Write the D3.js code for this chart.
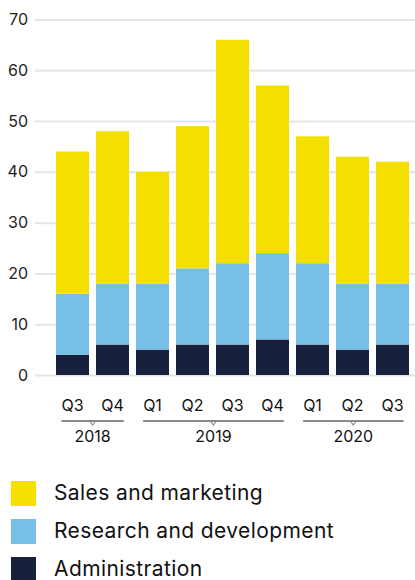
<!DOCTYPE html>
<html>
<head>
<meta charset="utf-8">
<script src="https://cdn.jsdelivr.net/npm/d3@7"></script>
<style>
  body { margin: 0; background: #fff; }
  svg { display: block; font-family: Inter, "Open Sans", sans-serif; }
</style>
</head>
<body>
<div class="chart"></div>
<script>
// quarters and the year each one belongs to
var quarters = ["Q3", "Q4", "Q1", "Q2", "Q3", "Q4", "Q1", "Q2", "Q3"];
var years = ["2018", "2018", "2019", "2019", "2019", "2019", "2020", "2020", "2020"];

// series values (stacked from the bottom)
var administration = [4, 6, 5, 6, 6, 7, 6, 5, 6];
var researchDev = [12, 12, 13, 15, 16, 17, 16, 13, 12];
var salesMarketing = [28, 30, 22, 28, 44, 33, 25, 25, 24];

var seriesNames = ["Administration", "Research and development", "Sales and marketing"];
var yTicks = [0, 10, 20, 30, 40, 50, 60, 70];

var colors = {
  "Administration": "#17213d",
  "Research and development": "#76bfe7",
  "Sales and marketing": "#f5df00"
};

var svgWidth = 415;
var svgHeight = 580;

var svg = d3.select(".chart")
  .append("svg")
  .attr("width", svgWidth)
  .attr("height", svgHeight);

// build rows for d3.stack
var rows = quarters.map(function(q, i) {
  return {
    key: i,
    "Administration": administration[i],
    "Research and development": researchDev[i],
    "Sales and marketing": salesMarketing[i]
  };
});

var stacked = d3.stack().keys(seriesNames)(rows);

var yScale = d3.scaleLinear().domain([0, 70]).range([375, 19.5]);
var xScale = d3.scaleBand()
  .domain(d3.range(quarters.length))
  .range([52.5, 412.5])
  .paddingInner(0.175)
  .paddingOuter(0.0875);

// gridlines + y labels
var yAxis = d3.axisLeft(yScale)
  .tickValues(yTicks)
  .tickSize(-380)
  .tickPadding(7)
  .tickFormat(d3.format("d"));

var yGroup = svg.append("g")
  .attr("transform", "translate(35, 0)")
  .call(yAxis);

yGroup.select(".domain").remove();
yGroup.selectAll(".tick line")
  .attr("stroke", "#e6e6e6")
  .attr("stroke-width", 2);
yGroup.selectAll(".tick text")
  .attr("fill", "#222")
  .attr("font-size", 16)
  .attr("font-family", "Inter, 'Open Sans', sans-serif");

// stacked bars
svg.append("g")
  .selectAll("g")
  .data(stacked)
  .enter()
  .append("g")
  .attr("fill", d => colors[d.key])
  .selectAll("rect")
  .data(d => d)
  .enter()
  .append("rect")
  .attr("x", d => xScale(d.data.key))
  .attr("y", d => yScale(d[1]))
  .attr("width", xScale.bandwidth())
  .attr("height", d => yScale(d[0]) - yScale(d[1]));

// quarter labels
var qLabels = svg.append("g")
  .selectAll("text")
  .data(quarters)
  .enter()
  .append("text")
  .attr("x", (d, i) => xScale(i) + xScale.bandwidth() / 2)
  .attr("y", 410.5)
  .attr("text-anchor", "middle")
  .attr("font-size", 16)
  .attr("fill", "#111")
  .text(d => d);

// year brackets span the quarter label extents
var yearList = Array.from(new Set(years));
var labelNodes = qLabels.nodes();

yearList.forEach(function(yr) {
  var idx = d3.range(years.length).filter(i => years[i] === yr);
  var first = labelNodes[idx[0]].getBBox();
  var last = labelNodes[idx[idx.length - 1]].getBBox();
  var x0 = first.x;
  var x1 = last.x + last.width;
  var mid = (x0 + x1) / 2;
  var g = svg.append("g");

  g.append("line")
    .attr("x1", x0).attr("x2", x1)
    .attr("y1", 421).attr("y2", 421)
    .attr("stroke", "#8a8a8a")
    .attr("stroke-width", 2);

  g.append("path")
    .attr("d", `M${mid - 3},421 L${mid},425 L${mid + 3},421`)
    .attr("fill", "none")
    .attr("stroke", "#8a8a8a")
    .attr("stroke-width", 1.2);

  g.append("text")
    .attr("x", mid)
    .attr("y", 442)
    .attr("text-anchor", "middle")
    .attr("font-size", 16)
    .attr("fill", "#111")
    .text(yr);
});

// legend (top to bottom: sales, r&d, admin)
var legendItems = seriesNames.slice().reverse();
var legend = svg.append("g")
  .selectAll("g")
  .data(legendItems)
  .enter()
  .append("g")
  .attr("transform", (d, i) => `translate(11, ${481 + i * 38})`);

legend.append("rect")
  .attr("width", 25)
  .attr("height", 25)
  .attr("fill", d => colors[d]);

legend.append("text")
  .attr("x", 43)
  .attr("y", 19)
  .attr("font-size", 21)
  .attr("letter-spacing", 0.4)
  .attr("fill", "#111")
  .text(d => d);
</script>
</body>
</html>
